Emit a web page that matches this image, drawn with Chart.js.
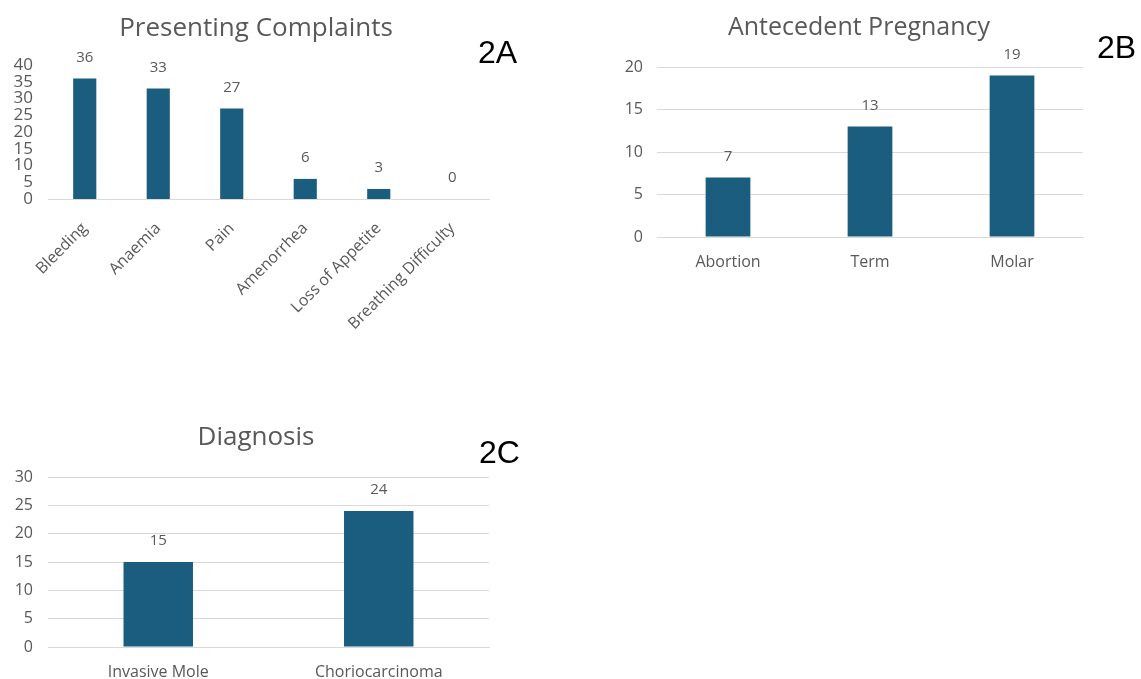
<!DOCTYPE html>
<html>
<head>
<meta charset="utf-8">
<script src="https://cdn.jsdelivr.net/npm/chart.js@4"></script>
<style>
  html, body { margin: 0; padding: 0; background: #fff; }
  body { width: 1141px; height: 679px; position: relative; overflow: hidden; }
  .box { position: absolute; }
  .title { position: absolute; font-family: "Open Sans", sans-serif; color: #595959; font-size: 26px; white-space: nowrap; transform: translate(-50%, -50%); }
  .tag { position: absolute; font-family: "Liberation Sans", Arial, sans-serif; color: #000; font-size: 32px; line-height: 1; }
</style>
</head>
<body>
<div class="box" style="left:0;top:0;width:540px;height:340px;"><canvas id="chartA"></canvas></div>
<div class="box" style="left:580px;top:0;width:561px;height:290px;"><canvas id="chartB"></canvas></div>
<div class="box" style="left:0;top:410px;width:540px;height:269px;"><canvas id="chartC"></canvas></div>

<div class="title" style="left:256px;top:26px;">Presenting Complaints</div>
<div class="title" style="left:859px;top:25px;font-size:25px;">Antecedent Pregnancy</div>
<div class="title" style="left:256px;top:435px;">Diagnosis</div>

<div class="tag" style="left:478px;top:36px;">2A</div>
<div class="tag" style="left:1097px;top:31px;">2B</div>
<div class="tag" style="left:479px;top:436px;">2C</div>

<script>
// --- data ---
const complaintLabels = ['Bleeding', 'Anaemia', 'Pain', 'Amenorrhea', 'Loss of Appetite', 'Breathing Difficulty'];
const complaintValues = [36, 33, 27, 6, 3, 0];

const pregnancyLabels = ['Abortion', 'Term', 'Molar'];
const pregnancyValues = [7, 13, 19];

const diagnosisLabels = ['Invasive Mole', 'Choriocarcinoma'];
const diagnosisValues = [15, 24];

const BAR_COLOR = '#1a5d7e';
const TEXT_COLOR = '#595959';
const GRID_COLOR = '#d9d9d9';
const FONT = '"Open Sans", sans-serif';

// value labels above each bar
const valueLabels = {
    id: 'valueLabels',
    afterDatasetsDraw(chart) {
        const ctx = chart.ctx;
        const meta = chart.getDatasetMeta(0);
        const data = chart.data.datasets[0].data;
        ctx.save();
        ctx.font = '15px ' + FONT;
        ctx.fillStyle = TEXT_COLOR;
        ctx.textAlign = 'center';
        ctx.textBaseline = 'middle';
        meta.data.forEach((bar, i) => {
            ctx.fillText(String(data[i]), bar.x, bar.y - 21);
        });
        ctx.restore();
    }
};

function makeChart(id, labels, values, opts) {
    return new Chart(document.getElementById(id), {
        type: 'bar',
        data: {
            labels: labels,
            datasets: [{
                data: values,
                backgroundColor: BAR_COLOR,
                categoryPercentage: 1,
                barPercentage: 0.315
            }]
        },
        options: {
            responsive: true,
            maintainAspectRatio: false,
            animation: false,
            layout: { padding: opts.padding },
            plugins: {
                legend: { display: false },
                tooltip: { enabled: false }
            },
            scales: {
                x: {
                    grid: { display: false },
                    border: { color: GRID_COLOR },
                    ticks: {
                        color: TEXT_COLOR,
                        font: { family: FONT, size: opts.xFont },
                        padding: opts.xPad,
                        maxRotation: opts.rot,
                        minRotation: opts.rot,
                        autoSkip: false
                    },
                    afterFit: s => { s.height = opts.xHeight; }
                },
                y: {
                    min: 0,
                    max: opts.max,
                    grid: { display: opts.grid, color: GRID_COLOR, drawTicks: false },
                    border: { display: false },
                    ticks: {
                        stepSize: 5,
                        autoSkip: false,
                        color: TEXT_COLOR,
                        font: { family: FONT, size: opts.yFont, lineHeight: 1 },
                        padding: opts.yPad
                    },
                    afterFit: s => { s.width = opts.yWidth; }
                }
            }
        },
        plugins: [valueLabels]
    });
}

makeChart('chartA', complaintLabels, complaintValues, {
    padding: { top: 65, left: 0, right: 51, bottom: 0 },
    max: 40, grid: false, rot: 45,
    xFont: 16, xPad: 12, xHeight: 141,
    yFont: 17, yPad: 15, yWidth: 48
});

makeChart('chartB', pregnancyLabels, pregnancyValues, {
    padding: { top: 67, left: 0, right: 58, bottom: 0 },
    max: 20, grid: true, rot: 0,
    xFont: 16, xPad: 8, xHeight: 53,
    yFont: 16, yPad: 14, yWidth: 77
});

makeChart('chartC', diagnosisLabels, diagnosisValues, {
    padding: { top: 67, left: 0, right: 51, bottom: 0 },
    max: 30, grid: true, rot: 0,
    xFont: 16, xPad: 8, xHeight: 32,
    yFont: 16, yPad: 15, yWidth: 48
});
</script>
</body>
</html>
